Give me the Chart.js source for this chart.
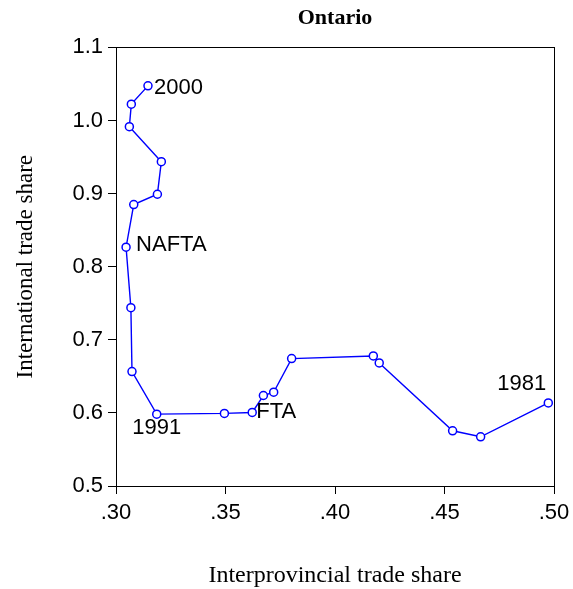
<!DOCTYPE html>
<html>
<head>
<meta charset="utf-8">
<script src="https://cdn.jsdelivr.net/npm/chart.js@4"></script>
<style>
html,body{margin:0;padding:0;background:#fff;}
#wrap{width:573px;height:589px;}
</style>
</head>
<body>
<div id="wrap"><canvas id="c" width="573" height="589"></canvas></div>
<script>
// ---- data ----
const years = [1981,1982,1983,1984,1985,1986,1987,1988,1989,1990,1991,1992,1993,1994,1995,1996,1997,1998,1999,2000];
const interprovincialShare = [0.4974,0.4665,0.4537,0.4202,0.4175,0.3802,0.3720,0.3673,0.3622,0.3495,0.3186,0.3073,0.3068,0.3046,0.3081,0.3189,0.3207,0.3061,0.3070,0.3146];
const internationalShare = [0.6137,0.5673,0.5755,0.6683,0.6779,0.6743,0.6283,0.6238,0.6006,0.5993,0.5983,0.6566,0.7439,0.8267,0.8850,0.8991,0.9437,0.9915,1.0224,1.0474];
const xTickValues = [0.30,0.35,0.40,0.45,0.50];
const xTickLabels = ['.30','.35','.40','.45','.50'];
const yTickValues = [0.5,0.6,0.7,0.8,0.9,1.0,1.1];
const yTickLabels = ['0.5','0.6','0.7','0.8','0.9','1.0','1.1'];
const labelYears = [1981,1989,1991,1994,2000];
const labelTexts = ['1981','FTA','1991','NAFTA','2000'];

// placement styles for the annotations (offsets from their point)
const labelPlacement = {
  1981: {dx:-2, dy:-19, align:'right'},
  1989: {dx:4, dy:-1, align:'left'},
  1991: {dx:0, dy:14, align:'center'},
  1994: {dx:10, dy:-2, align:'left'},
  2000: {dx:6, dy:2, align:'left'}
};

const points = interprovincialShare.map((x,i)=>({x:x, y:internationalShare[i]}));

const frame = {
  id:'frame',
  afterDraw(chart){
    const a = chart.chartArea, ctx = chart.ctx;
    ctx.save();
    ctx.strokeStyle = '#000';
    ctx.lineWidth = 1;
    ctx.strokeRect(Math.round(a.left)+0.5, Math.round(a.top)+0.5, Math.round(a.right-a.left), Math.round(a.bottom-a.top));
    ctx.restore();
  }
};

const pointLabels = {
  id:'pointLabels',
  afterDatasetsDraw(chart){
    const meta = chart.getDatasetMeta(0);
    const ctx = chart.ctx;
    ctx.save();
    ctx.font = '22px "Liberation Sans", Arial, sans-serif';
    ctx.fillStyle = '#000';
    ctx.textBaseline = 'middle';
    labelYears.forEach((yr,k)=>{
      const i = years.indexOf(yr);
      const el = meta.data[i];
      const p = labelPlacement[yr];
      ctx.textAlign = p.align;
      ctx.fillText(labelTexts[k], el.x + p.dx, el.y + p.dy);
    });
    ctx.restore();
  }
};

const tickFont = {family:'"Liberation Sans", Arial, sans-serif', size:22};

new Chart(document.getElementById('c'), {
  type:'scatter',
  data:{
    datasets:[{
      data: points,
      showLine:true,
      borderColor:'#0000FF',
      borderWidth:1.4,
      pointRadius:4,
      pointBorderWidth:1.5,
      pointBackgroundColor:'#FFFFFF',
      pointBorderColor:'#0000FF',
      tension:0
    }]
  },
  options:{
    responsive:false,
    animation:false,
    layout:{padding:{left:0,right:19,top:0,bottom:0}},
    plugins:{
      legend:{display:false},
      tooltip:{enabled:false},
      title:{
        display:true,
        fullSize:false,
        text:'Ontario',
        color:'#000',
        font:{family:'"Liberation Serif", "Times New Roman", serif', size:22, weight:'bold'},
        padding:{top:5,bottom:16}
      }
    },
    scales:{
      x:{
        type:'linear',
        min:0.30, max:0.50,
        afterBuildTicks(s){ s.ticks = xTickValues.map(v=>({value:v})); },
        afterFit(s){ s.height = 103; s.paddingLeft = 0; s.paddingRight = 0; },
        ticks:{
          color:'#000', font:tickFont, padding:6, maxRotation:0, autoSkip:false,
          callback(v){ const i = xTickValues.findIndex(t=>Math.abs(t-v)<1e-9); return i>=0 ? xTickLabels[i] : ''; }
        },
        grid:{drawOnChartArea:false, drawTicks:true, tickLength:8, color:'#000', lineWidth:1},
        border:{display:false},
        title:{display:true, text:'Interprovincial trade share', color:'#000',
          font:{family:'"Liberation Serif", "Times New Roman", serif', size:24}, padding:{top:0,bottom:-1}}
      },
      y:{
        type:'linear',
        min:0.5, max:1.1,
        afterBuildTicks(s){ s.ticks = yTickValues.map(v=>({value:v})); },
        afterFit(s){ s.width = 116; s.paddingTop = 0; s.paddingBottom = 0; },
        ticks:{
          color:'#000', font:tickFont, padding:5, autoSkip:false,
          callback(v){ const i = yTickValues.findIndex(t=>Math.abs(t-v)<1e-9); return i>=0 ? yTickLabels[i] : ''; }
        },
        grid:{drawOnChartArea:false, drawTicks:true, tickLength:8, color:'#000', lineWidth:1},
        border:{display:false},
        title:{display:true, text:'International trade share', color:'#000',
          font:{family:'"Liberation Serif", "Times New Roman", serif', size:23}, padding:{top:12,bottom:0}}
      }
    }
  },
  plugins:[frame, pointLabels]
});
</script>
</body>
</html>
